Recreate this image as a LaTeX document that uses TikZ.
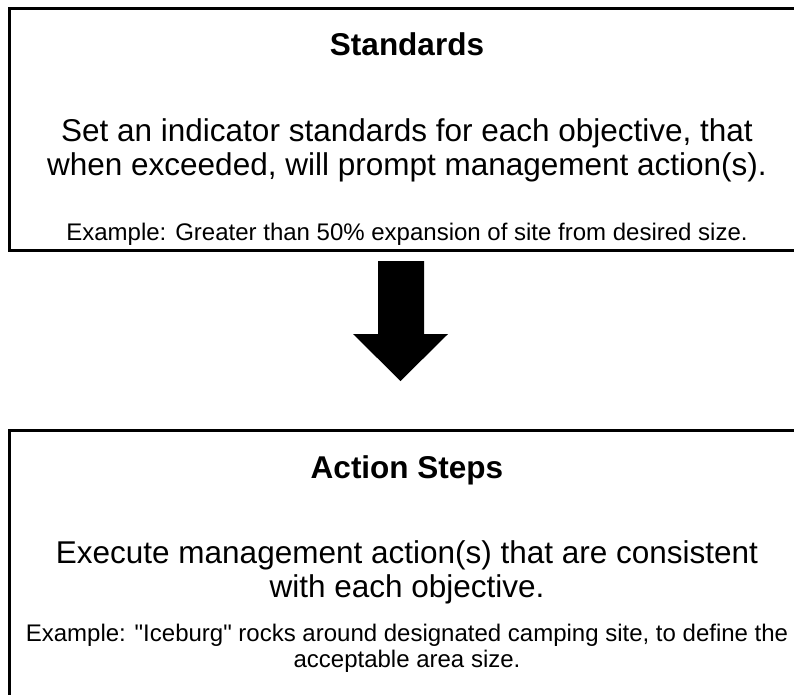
\documentclass[tikz,border=0pt]{standalone}
\usepackage{fontspec}
\setmainfont{Liberation Sans}[Ligatures=TeXOff]
\usetikzlibrary{positioning}

\begin{document}
\begin{tikzpicture}[x=1pt, y=-1pt,
    panel/.style={rectangle, draw, line width=3pt, inner sep=0pt, outer sep=0pt},
    heading/.style={anchor=base, font=\fontsize{31.5}{33}\selectfont\bfseries},
    body/.style={anchor=base, align=center, font=\fontsize{31.5}{33.5}\selectfont},
    example/.style={anchor=base, align=center, font=\fontsize{24}{26.5}\selectfont}]

\useasboundingbox (0,0) rectangle (794,694);

% boxes
\node[panel, minimum width=795.5pt, minimum height=241.5pt] (standards) at (407.25,129.25) {};
\node[panel, minimum width=795.5pt, minimum height=280pt] (action) at (407.25,570) {};

% top box text
\node[heading] (stdtitle) at (407,55) {Standards};
\node[body] (stdline1) at (407,141) {Set an indicator standards for each objective, that};
\node[body] (stdline2) at (407,175) {when exceeded, will prompt management action(s).};
\node[example] (stdex) at (407,240) {Example: Greater than 50\% expansion of site from desired size.};

% bottom box text
\node[heading] (acttitle) at (407,478) {Action Steps};
\node[body] (actline1) at (407,563) {Execute management action(s) that are consistent};
\node[body] (actline2) at (407,597) {with each objective.};
\node[example] (actex1) at (407,641) {Example: "Iceburg" rocks around designated camping site, to define the};
\node[example] (actex2) at (407,667) {acceptable area size.};

% block arrow
\fill (378,261) -- (424,261) -- (424,334) -- (448,334) -- (400.5,381)
  -- (353,334) -- (378,334) -- cycle;
\end{tikzpicture}
\end{document}
